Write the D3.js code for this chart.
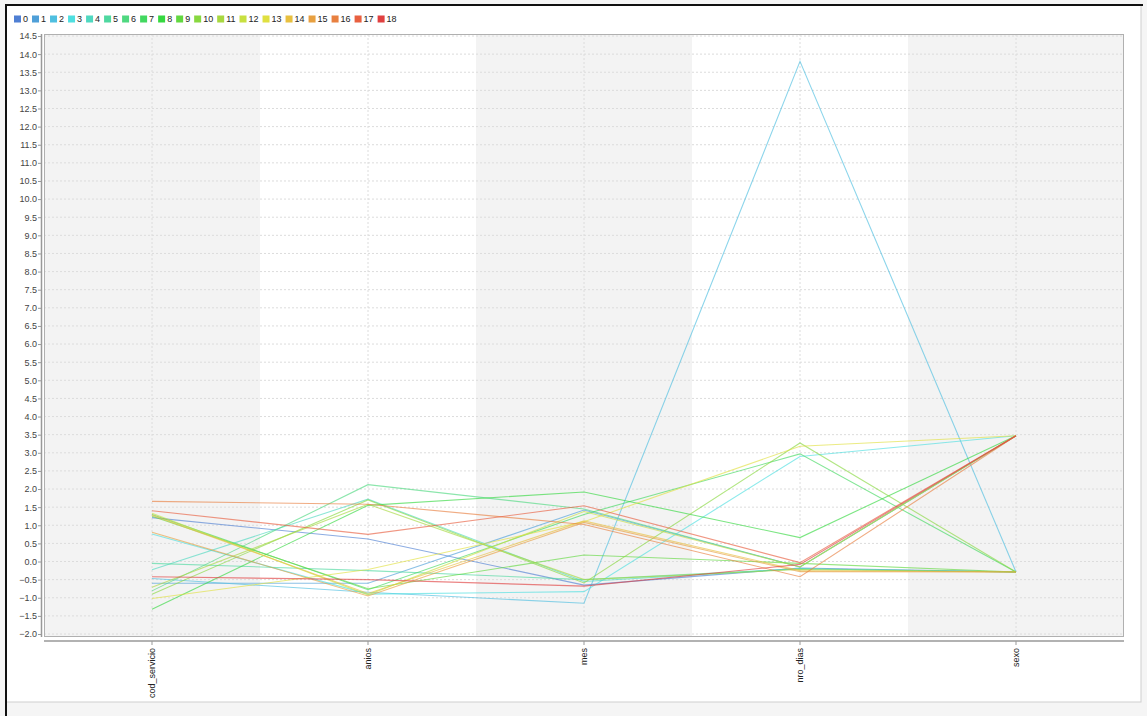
<!DOCTYPE html>
<html>
<head>
<meta charset="utf-8">
<script src="https://cdn.jsdelivr.net/npm/d3@7"></script>
<style>
  body { margin: 0; background: #fff; }
  svg text { font-family: "Liberation Sans", Arial, sans-serif; }
</style>
</head>
<body>
<svg id="chart" width="1147" height="716"></svg>
<script>
document.addEventListener("DOMContentLoaded", function() {

    // Data
    const dimensions = ["cod_servicio", "anios", "mes", "nro_dias", "sexo"];
    const seriesNames = ["0","1","2","3","4","5","6","7","8","9","10","11","12","13","14","15","16","17","18"];
    const seriesColors = ["#4f7fd3","#4f9fd8","#4fbfe0","#4fdfe0","#4fd8c0","#4fd8a0","#4fd880","#42d860",
                          "#36d840","#62d840","#88d840","#a8d840","#c8e040","#e0e040","#e8c040","#e8a040",
                          "#e88040","#e86040","#e04040"];
    const codServicio = [1.21, -0.60, -0.47, 0.76, -0.23, -0.05, -0.81, 1.30, -1.32, 1.25, -0.90, -0.71, 1.33, -1.02, 1.28, 0.81, 1.66, 1.40, -0.42];
    const anios       = [0.62, -0.60, -0.85, -0.90, 1.72, -0.25, 2.12, -0.78, 1.55, -0.75, 1.70, 1.58, -0.92, -0.22, -0.88, -0.95, 1.58, 0.75, -0.50];
    const mes         = [-0.65, 1.42, -1.15, -0.83, -0.55, -0.50, 1.45, 1.30, 1.92, 0.18, -0.59, -0.50, 1.38, 1.10, 1.12, 1.08, 1.02, 1.54, -0.68];
    const nroDias     = [-0.18, -0.15, 13.80, 2.90, -0.20, -0.20, -0.15, 2.97, 0.66, -0.05, 3.27, -0.22, -0.15, 3.18, -0.25, -0.28, -0.42, -0.03, -0.08];
    const sexo        = [-0.29, 3.47, -0.29, 3.47, -0.29, -0.29, 3.47, -0.29, 3.47, -0.29, -0.29, -0.29, 3.47, 3.47, -0.29, -0.29, 3.47, 3.47, 3.47];
    const yTicks = d3.range(-4, 30).map(d => d / 2);   // -2.0 .. 14.5

    const columns = [codServicio, anios, mes, nroDias, sexo];
    const rows = seriesNames.map((name, i) => ({
        name: name,
        color: seriesColors[i],
        values: dimensions.map((dim, j) => ({dim: dim, value: columns[j][i]}))
    }));

    // Size settings
    const svg = d3.select("#chart");
    const plot = {left: 44, right: 1124, top: 34, bottom: 637};

    // Frame
    svg.append("rect").attr("x", 0).attr("y", 0).attr("width", 1147).attr("height", 716).attr("fill", "#f5f5f5");
    svg.append("rect").attr("x", 6).attr("y", 5).attr("width", 1135).attr("height", 697)
        .attr("fill", "#fff").attr("stroke", "#cfcfcf");
    svg.append("line").attr("x1", 5).attr("x2", 1143).attr("y1", 5).attr("y2", 5)
        .attr("stroke", "#111").attr("stroke-width", 2);
    svg.append("line").attr("x1", 6).attr("x2", 6).attr("y1", 4).attr("y2", 716)
        .attr("stroke", "#111").attr("stroke-width", 2);

    // Scales
    const x = d3.scaleBand().domain(dimensions).range([plot.left, plot.right]);
    const y = d3.scaleLinear().domain([-2.0, 14.5]).range([634, 36]);
    const cx = d => x(d) + x.bandwidth() / 2;

    // Plot background bands
    svg.append("rect").attr("x", plot.left).attr("y", plot.top)
        .attr("width", plot.right - plot.left).attr("height", plot.bottom - plot.top)
        .attr("fill", "#fff");
    svg.selectAll(".band")
        .data(dimensions.filter((d, i) => i % 2 === 0))
        .enter().append("rect")
        .attr("class", "band")
        .attr("x", d => x(d))
        .attr("y", plot.top)
        .attr("width", x.bandwidth())
        .attr("height", plot.bottom - plot.top)
        .attr("fill", "#f3f3f3");

    // Grid
    svg.selectAll(".hgrid")
        .data(yTicks)
        .enter().append("line")
        .attr("class", "hgrid")
        .attr("x1", plot.left).attr("x2", plot.right)
        .attr("y1", d => y(d)).attr("y2", d => y(d))
        .attr("stroke", "#dcdcdc").attr("stroke-dasharray", "2,2");
    svg.selectAll(".vgrid")
        .data(dimensions)
        .enter().append("line")
        .attr("class", "vgrid")
        .attr("x1", cx).attr("x2", cx)
        .attr("y1", plot.top).attr("y2", plot.bottom)
        .attr("stroke", "#dcdcdc").attr("stroke-dasharray", "2,2");

    svg.append("rect").attr("x", plot.left + 0.5).attr("y", plot.top + 0.5)
        .attr("width", plot.right - plot.left - 1).attr("height", plot.bottom - plot.top - 1)
        .attr("fill", "none").attr("stroke", "#b0b0b0");

    // Lines
    const line = d3.line()
        .x(d => cx(d.dim))
        .y(d => y(d.value));

    svg.selectAll(".series")
        .data(rows)
        .enter().append("path")
        .attr("class", "series")
        .attr("d", d => line(d.values))
        .attr("fill", "none")
        .attr("stroke", d => d.color)
        .attr("stroke-width", 1.1)
        .attr("stroke-opacity", 0.65);

    // Y axis
    const yAxis = svg.append("g")
        .attr("transform", "translate(41,0)")
        .call(d3.axisLeft(y).tickValues(yTicks).tickFormat(d3.format(".1f")).tickSize(3).tickSizeOuter(0));
    yAxis.select(".domain").remove();
    yAxis.append("line").attr("x1", 0.5).attr("x2", 0.5).attr("y1", plot.top).attr("y2", plot.bottom)
        .attr("stroke", "#999").attr("stroke-width", 1.5);
    yAxis.selectAll(".tick line").attr("stroke", "#999");
    yAxis.selectAll(".tick text").attr("fill", "#444").style("font-size", "9px").attr("x", -4);

    // X axis
    const xAxis = svg.append("g")
        .attr("transform", "translate(0,641)")
        .call(d3.axisBottom(x).tickSize(4).tickSizeOuter(0));
    xAxis.select(".domain").remove();
    xAxis.append("line").attr("x1", plot.left).attr("x2", plot.right).attr("y1", 0).attr("y2", 0)
        .attr("stroke", "#999").attr("stroke-width", 1.5);
    xAxis.selectAll(".tick line").attr("stroke", "#999");
    xAxis.selectAll(".tick text")
        .attr("fill", "#222")
        .style("font-size", "9px")
        .attr("text-anchor", "end")
        .attr("transform", "rotate(-90)")
        .attr("x", -7)
        .attr("y", 0)
        .attr("dy", "0.32em");

    // Legend
    const legend = svg.append("g").attr("transform", "translate(14,19)");
    let lx = 0;
    rows.forEach(r => {
        const g = legend.append("g").attr("transform", `translate(${lx},0)`);
        g.append("rect").attr("x", 0).attr("y", -3.5).attr("width", 7).attr("height", 7).attr("fill", r.color);
        const t = g.append("text").attr("x", 9).attr("y", 0).attr("dy", "0.34em")
            .attr("fill", "#222").style("font-size", "9px").text(r.name);
        lx += 9 + t.node().getComputedTextLength() + 4;
    });

});
</script>
</body>
</html>
